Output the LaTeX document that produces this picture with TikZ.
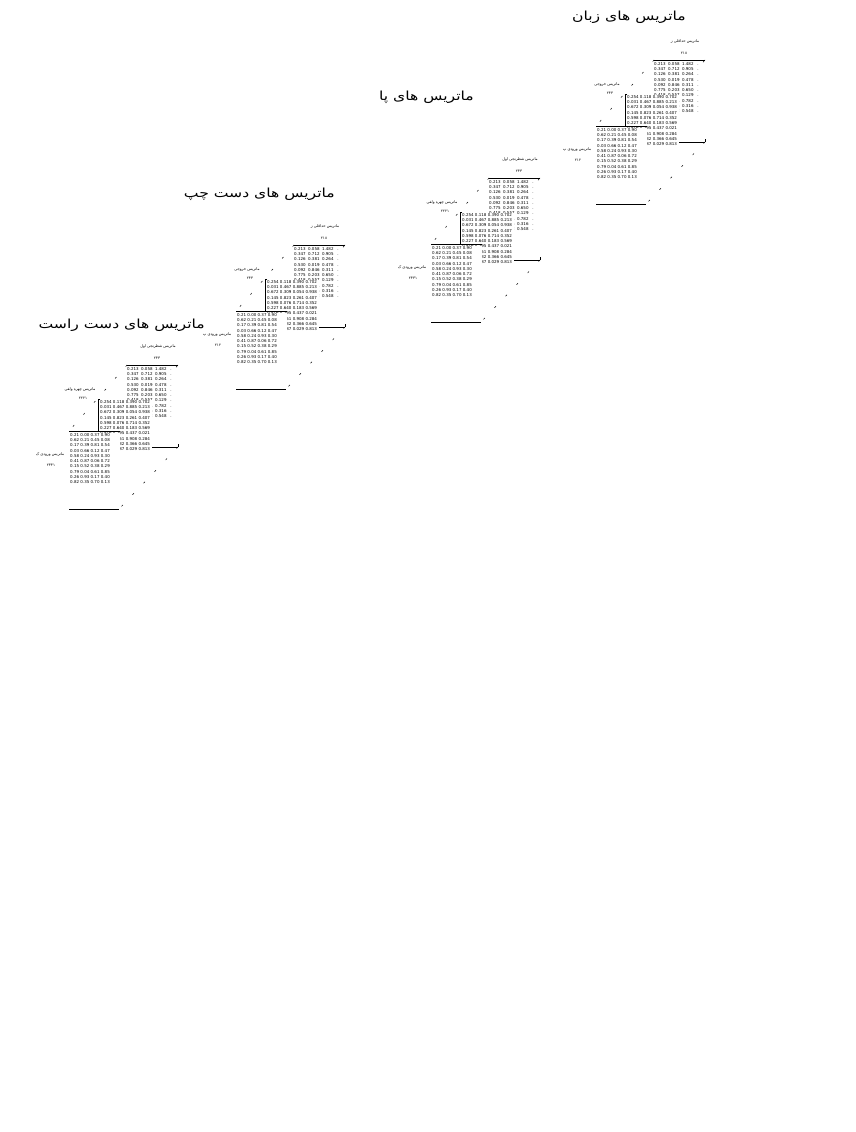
\documentclass[tikz,border=0pt]{standalone}
\usepackage{fontspec}
\setmainfont{DejaVu Sans}
\newfontfamily\farsifont[Script=Arabic]{DejaVu Sans}
\newfontfamily\titlefarsi[Script=Arabic,FakeStretch=1.25]{DejaVu Sans}
\TeXXeTstate=1

\def\fa#1{{\farsifont\beginR #1\endR}}
\def\fatitle#1{{\titlefarsi\beginR #1\endR}}
\newcommand\numfont{\fontsize{4}{5.3}\selectfont}
\newcommand\labfont{\fontsize{3.8}{4.5}\selectfont}
\newcommand\titlefont{\fontsize{12.5}{14}\selectfont}
\def\gap{\hspace{2.5pt}}

% labels of the three slices (two sets)
\def\toplabA{ماتریس شطرنجی اول}  \def\topnumA{۲۳۳}
\def\midlabA{ماتریس چهره ولفی}   \def\midnumA{۲۲۲۱}
\def\frontlabA{ماتریس ورودی ک}   \def\frontnumA{۲۳۳۱}
\def\toplabB{ماتریس حداقلی ز}    \def\topnumB{۲۱۸}
\def\midlabB{ماتریس خروجی}       \def\midnumB{۲۴۴}
\def\frontlabB{ماتریس ورودی پ}   \def\frontnumB{۲۱۲}

% entries of the slices
\def\backrows{%
0.213\gap0.058\gap1.482\gap\ .\\
0.347\gap0.712\gap0.905\gap\ .\\
0.126\gap0.381\gap0.264\gap\ .\\
0.530\gap0.019\gap0.478\gap\ .\\
0.092\gap0.846\gap0.311\gap\ .\\
0.775\gap0.203\gap0.650\gap\ .\\
0.418\gap0.557\gap0.129\gap\ .\\
0.061\gap0.934\gap0.782\gap\ .\\
0.289\gap0.405\gap0.316\gap\ .\\
0.903\gap0.172\gap0.548\gap\ .}
\def\midrows{%
0.254 0.118 0.390 0.702\\
0.031 0.467 0.885 0.213\\
0.672 0.309 0.054 0.938\\
0.145 0.823 0.261 0.407\\
0.598 0.076 0.714 0.352\\
0.227 0.640 0.183 0.569\\
0.816 0.295 0.437 0.021\\
0.063 0.751 0.908 0.284\\
0.479 0.132 0.366 0.645\\
0.304 0.587 0.029 0.813}
\def\frontrows{%
0.21 0.00 0.37 0.90\\
0.62 0.21 0.45 0.08\\
0.17 0.39 0.81 0.54\\
0.03 0.66 0.12 0.47\\
0.58 0.24 0.93 0.30\\
0.41 0.87 0.06 0.72\\
0.15 0.52 0.38 0.29\\
0.79 0.04 0.61 0.85\\
0.26 0.93 0.17 0.40\\
0.82 0.35 0.70 0.13}

\begin{document}
\begin{tikzpicture}[x=1pt,y=-1pt]
    \tikzstyle{slice}=[anchor=north west,inner sep=0pt,align=left,font=\numfont]
    \tikzstyle{mid slice}=[slice,fill=white,text width=52pt]
    \tikzstyle{front slice}=[slice,fill=white,text width=50pt]
    \tikzstyle{lab}=[inner sep=0pt,font=\labfont]
    \tikzstyle{title}=[inner sep=0pt,anchor=east,font=\titlefont]
    \tikzstyle{depth}=[line width=0.5pt,dash pattern=on 2pt off 14pt]
    \tikzstyle{stub}=[line width=0.5pt,dash pattern=on 3pt off 200pt]

    \useasboundingbox (0,0) rectangle (856,1132);

    % Draw the titles of the groups
    \node[title] (t-1) at (205,325) {\fatitle{ماتریس های دست راست}};
    \node[title] (t-2) at (335,194) {\fatitle{ماتریس های دست چپ}};
    \node[title] (t-3) at (474,97) {\fatitle{ماتریس های پا}};
    \node[title] (t-4) at (686,17) {\fatitle{ماتریس های زبان}};

    % Draw the three slices of every group
    \foreach \g/\ox/\oy/\set in {1/127/365/A,2/294/245/B,3/489/178/A,4/654/60/B}
    {
    \begin{scope}[shift={(\ox,\oy)}]
        \coordinate (b-nw-\g) at (0,0);
        \coordinate (b-ne-\g) at (51,0);
        \coordinate (b-sw-\g) at (0,82);
        \coordinate (b-se-\g) at (51,82);
        \coordinate (m-nw-\g) at (-29,34);
        \coordinate (m-n-\g) at (-27,34);
        \coordinate (m-sw-\g) at (-29,66);
        \coordinate (f-nw-\g) at (-58,66);
        \coordinate (f-ne-\g) at (-7,66);
        \coordinate (f-sw-\g) at (-58,144);
        \coordinate (f-se-\g) at (-8,144);

        % back slice
        \node[slice] (back-\g) at (0,2) {\backrows};
        \draw[line width=0.6pt] (b-nw-\g) -- (b-ne-\g);
        \draw[line width=0.6pt] (b-sw-\g) -- (b-se-\g);
        \draw[stub] (b-se-\g) -- (b-ne-\g);
        \draw[stub] (b-ne-\g) -- (f-ne-\g);
        \node[lab] (bl-\g) at (31,-18) {\fa{\csname toplab\set\endcsname}};
        \node[lab] (bn-\g) at (30,-7) {\fa{\csname topnum\set\endcsname}};

        % middle slice
        \node[mid slice] (mid-\g) at (-27,35) {\midrows};
        \draw[line width=0.6pt] (m-n-\g) -- (m-nw-\g) -- (m-sw-\g);
        \node[lab] (ml-\g) at (-47,25) {\fa{\csname midlab\set\endcsname}};
        \node[lab] (mn-\g) at (-44,33) {\fa{\csname midnum\set\endcsname}};

        % front slice
        \node[front slice] (front-\g) at (-57,68) {\frontrows};
        \draw[line width=0.6pt] (f-nw-\g) -- (f-ne-\g);
        \draw[line width=0.6pt] (f-sw-\g) -- (f-se-\g);
        \node[lab] (fl-\g) at (-77,90) {\fa{\csname frontlab\set\endcsname}};
        \node[lab] (fn-\g) at (-76,100) {\fa{\csname frontnum\set\endcsname}};

        % depth edges
        \draw[depth] (b-nw-\g) -- (f-nw-\g);
        \draw[depth] (b-se-\g) -- (f-se-\g);
    \end{scope}
    }
\end{tikzpicture}
\end{document}
